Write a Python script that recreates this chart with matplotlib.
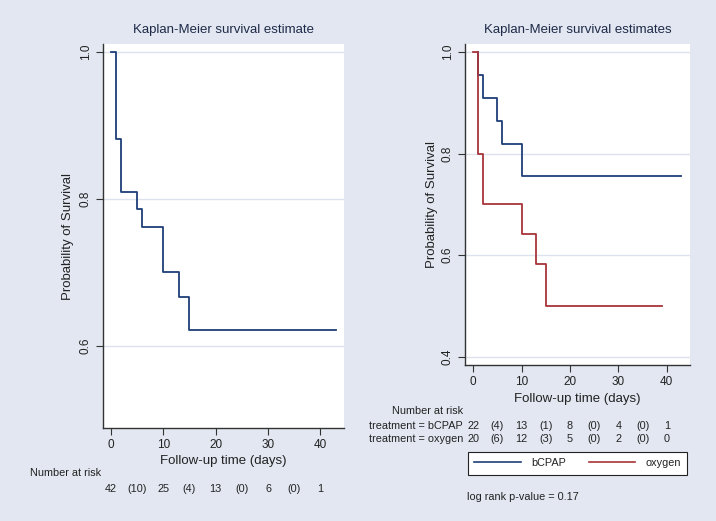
import matplotlib
matplotlib.use("Agg")
import matplotlib.pyplot as plt
from matplotlib.lines import Line2D
import matplotlib.transforms as mtrans

plt.rcParams['font.family'] = ['Liberation Sans', 'DejaVu Sans']

# ---- data ----
all_time = [0, 1, 2, 5, 6, 10, 13, 15, 43]
all_surv = [1.0, 0.881, 0.8095, 0.7857, 0.7619, 0.700, 0.666, 0.621, 0.621]

bcpap_time = [1, 1, 2, 5, 6, 10, 43]
bcpap_surv = [1.0, 0.9545, 0.9091, 0.8636, 0.8182, 0.755, 0.755]
oxy_time = [0, 1, 2, 10, 13, 15, 39]
oxy_surv = [1.0, 0.80, 0.70, 0.6417, 0.5833, 0.50, 0.50]

risk_times = [0, 5, 10, 15, 20, 25, 30, 35, 40]
risk_all = ["42", "(10)", "25", "(4)", "13", "(0)", "6", "(0)", "1"]
risk_bcpap = ["22", "(4)", "13", "(1)", "8", "(0)", "4", "(0)", "1"]
risk_oxy = ["20", "(6)", "12", "(3)", "5", "(0)", "2", "(0)", "0"]

BG = "#E2E7F1"
GRID = "#DCE3EE"
BLUE = "#1F3F78"
RED = "#A8343A"
TXT = "#222222"
TITLE = "#1E2A48"
SMALL = 7.8

W, H = 716, 521
fig = plt.figure(figsize=(W / 100, H / 100), dpi=100, facecolor=BG)


def fx(px):
    return px / W


def fy(py):
    return 1 - py / H


def style(ax, yticks, ylim, xlim):
    ax.set_facecolor("white")
    ax.set_xlim(*xlim)
    ax.set_ylim(*ylim)
    ax.set_yticks(yticks)
    ax.set_yticklabels([f"{v:.1f}" for v in yticks], rotation=90, va="center")
    ax.set_xticks([0, 10, 20, 30, 40])
    for s in ["top", "right"]:
        ax.spines[s].set_visible(False)
    for s in ["left", "bottom"]:
        ax.spines[s].set_color("#333333")
        ax.spines[s].set_linewidth(1.0)
    ax.tick_params(axis="both", direction="out", length=5, width=0.8,
                   colors="#333333", labelsize=8.5, labelcolor=TXT, pad=3)
    for v in yticks:
        ax.axhline(v, color=GRID, lw=1.0, zorder=0)


# ---- left panel ----
ax1 = fig.add_axes([fx(103), fy(428), fx(344 - 103), (428 - 44) / H])
style(ax1, [0.6, 0.8, 1.0], (0.488, 1.011), (-1.5, 44.5))
ax1.step(all_time, all_surv, where="post", color=BLUE, lw=1.3)
ax1.set_title("Kaplan-Meier survival estimate", fontsize=9.5, color=TITLE, pad=8)
ax1.set_ylabel("Probability of Survival", fontsize=9.5, color=TXT, labelpad=4)
ax1.set_xlabel("Follow-up time (days)", fontsize=9.5, color=TXT, labelpad=3)

tr1 = mtrans.blended_transform_factory(ax1.transData, fig.transFigure)
fig.text(fx(30), fy(473), "Number at risk", fontsize=SMALL, color=TXT, ha="left", va="center")
for t, s in zip(risk_times, risk_all):
    fig.text(t, fy(489), s, transform=tr1, fontsize=SMALL, color=TXT, ha="center", va="center")

# ---- right panel ----
ax2 = fig.add_axes([fx(465), fy(365.3), fx(690 - 465), (365.3 - 44) / H])
style(ax2, [0.4, 0.6, 0.8, 1.0], (0.383, 1.016), (-1.7, 44.8))
ax2.step(bcpap_time, bcpap_surv, where="post", color=BLUE, lw=1.3)
ax2.step(oxy_time, oxy_surv, where="post", color=RED, lw=1.3)
ax2.set_title("Kaplan-Meier survival estimates", fontsize=9.5, color=TITLE, pad=8)
ax2.set_ylabel("Probability of Survival", fontsize=9.5, color=TXT, labelpad=3)
ax2.set_xlabel("Follow-up time (days)", fontsize=9.5, color=TXT, labelpad=3)

tr2 = mtrans.blended_transform_factory(ax2.transData, fig.transFigure)
fig.text(fx(463), fy(411), "Number at risk", fontsize=SMALL, color=TXT, ha="right", va="center")
fig.text(fx(463), fy(426), "treatment = bCPAP", fontsize=SMALL, color=TXT, ha="right", va="center")
fig.text(fx(463), fy(439), "treatment = oxygen", fontsize=SMALL, color=TXT, ha="right", va="center")
for t, a, b in zip(risk_times, risk_bcpap, risk_oxy):
    fig.text(t, fy(426), a, transform=tr2, fontsize=SMALL, color=TXT, ha="center", va="center")
    fig.text(t, fy(439), b, transform=tr2, fontsize=SMALL, color=TXT, ha="center", va="center")

handles = [Line2D([], [], color=BLUE, lw=1.2), Line2D([], [], color=RED, lw=1.2)]
leg = fig.legend(handles, ["bCPAP", "oxygen"], ncol=2,
                 bbox_to_anchor=(fx(577.5), fy(463)), loc="center",
                 borderaxespad=0, fancybox=False, frameon=True,
                 edgecolor="#222222", facecolor="white", framealpha=1,
                 fontsize=SMALL, handlelength=4.3, handletextpad=0.95,
                 columnspacing=2.1, borderpad=0.6)
leg.get_frame().set_linewidth(0.8)
for t in leg.get_texts():
    t.set_color(TXT)

fig.text(fx(467), fy(497), "log rank p-value = 0.17", fontsize=SMALL, color=TXT,
         ha="left", va="center")

fig.savefig("out.png", dpi=100, facecolor=BG)
